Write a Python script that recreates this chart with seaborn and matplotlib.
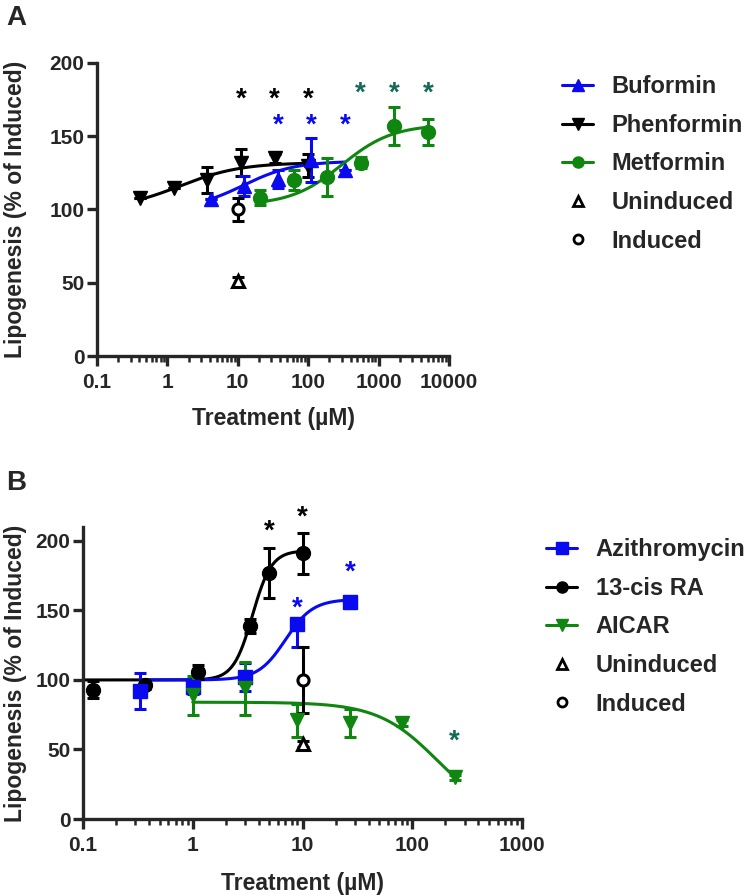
import numpy as np
import matplotlib
matplotlib.use("Agg")
import matplotlib.pyplot as plt
import seaborn as sns
from matplotlib.lines import Line2D
from matplotlib.ticker import FixedLocator, FixedFormatter, LogLocator, NullFormatter

# ---- Panel A data ----
phen_x = [0.41, 1.23, 3.7, 11.1, 33.3, 100]
phen_y = [108, 115, 120, 132, 135, 130]
phen_err = [0, 0, 9, 9, 3, 8]
buf_x = [4.1, 12.3, 37, 111, 333]
buf_y = [107, 116, 121, 134, 127]
buf_err = [0, 7, 6, 15, 0]
met_x = [20.6, 62, 185, 556, 1667, 5000]
met_y = [108, 120, 122, 132, 157, 153]
met_err = [5, 7, 13, 4, 13, 9]
ctrl_a_x = [10]
uninduced_a = [51]
uninduced_a_err = [3]
induced_a = [100]
induced_a_err = [8]
stars_a_phen = [11.1, 33.3, 100]
stars_a_buf = [37, 111, 333]
stars_a_met = [556, 1667, 5000]

# fitted curve params: bottom, top, EC50, hill, x-range
phen_fit = [100, 132, 1.5, 1.0, 0.41, 100]
buf_fit = [100, 133, 12, 1.2, 4.1, 333]
met_fit = [103, 158, 300, 1.2, 20.6, 5000]

# ---- Panel B data ----
azi_x = [0.333, 1, 3, 9, 27]
azi_y = [92, 95, 102, 140, 156]
azi_err_lo = [13, 5, 10, 16, 4]
azi_err_hi = [13, 5, 10, 0, 4]
cis_x = [0.123, 0.37, 1.11, 3.33, 5, 10]
cis_y = [93, 96.5, 106, 139, 177, 191]
cis_err = [6, 3, 5, 5, 18, 15]
aic_x = [1, 3, 9, 27, 81, 243]
aic_y = [89, 94, 71, 69, 69, 30]
aic_err = [14, 19, 12, 10, 2, 2]
ctrl_b_x = [10]
uninduced_b = [54]
uninduced_b_err = [2]
induced_b = [100]
induced_b_err = [24]
stars_b_cis = [(5, 207), (10, 217)]
stars_b_azi = [(9, 151), (27, 177)]
stars_b_aic = [(243, 56)]

azi_fit = [100, 158, 7, 3.5, 0.333, 27]
cis_fit = [100, 193, 3.5, 5, 0.1, 10]
aic_fit = [84, 0, 170, 1.6, 1, 243]

BLUE = "#0a0af0"
GREEN = "#0f860f"
TEAL = "#136b55"
BLACK = "black"

sns.set_style("ticks")
plt.rcParams['font.family'] = ['Liberation Sans', 'DejaVu Sans']
plt.rcParams['font.weight'] = 'bold'
plt.rcParams['axes.labelweight'] = 'bold'

W, H = 744, 896
fig = plt.figure(figsize=(7.44, 8.96), dpi=100)
axA = fig.add_axes([97 / W, 1 - 356 / H, 352 / W, 293 / H])
axB = fig.add_axes([83 / W, 1 - 819 / H, 439 / W, 292 / H])


def fit_curve(ax, p, color):
    bottom, top, ec50, hill, lo, hi = p
    xs = np.logspace(np.log10(lo), np.log10(hi), 200)
    ys = bottom + (top - bottom) / (1 + (ec50 / xs) ** hill)
    sns.lineplot(x=xs, y=ys, ax=ax, color=color, linewidth=2.2, estimator=None, sort=False)


def series(ax, x, y, err, marker, color, ms=10):
    ax.errorbar(x, y, yerr=err, fmt='none', ecolor=color, elinewidth=2.2,
                capsize=4, capthick=2.2, zorder=3)
    ax.plot(x, y, linestyle='none', marker=marker, color=color, markersize=ms, zorder=4)


def open_series(ax, x, y, err, marker):
    ax.errorbar(x, y, yerr=err, fmt='none', ecolor='black', elinewidth=2.2,
                capsize=4, capthick=2.2, zorder=3)
    ax.plot(x, y, linestyle='none', marker=marker, markerfacecolor='white',
            markeredgecolor='black', markeredgewidth=2.2, markersize=8, zorder=4)


def stars(ax, pts, color):
    for x, y in pts:
        ax.text(x, y, '*', ha='center', va='center', fontsize=20,
                fontweight='bold', color=color, clip_on=False)


def style_axis(ax, xmax, ymax, ylab_x, xlab_y):
    ax.set_xscale('log')
    ax.set_xlim(0.1, xmax)
    ax.set_ylim(0, ymax)
    majors = [10.0 ** k for k in range(-1, int(np.log10(xmax)) + 1)]
    ax.xaxis.set_major_locator(FixedLocator(majors))
    ax.xaxis.set_major_formatter(FixedFormatter([f"{m:g}" for m in majors]))
    ax.xaxis.set_minor_locator(LogLocator(base=10, subs=np.arange(2, 10)))
    ax.xaxis.set_minor_formatter(NullFormatter())
    ax.set_yticks([0, 50, 100, 150, 200])
    sns.despine(ax=ax)
    for s in ['left', 'bottom']:
        ax.spines[s].set_linewidth(2.4)
    ax.tick_params(which='major', length=7, width=2.4, labelsize=15)
    ax.tick_params(axis='x', which='major', pad=5)
    ax.tick_params(axis='y', which='major', pad=2)
    ax.tick_params(which='minor', length=4, width=1.8)
    for lab in ax.get_xticklabels() + ax.get_yticklabels():
        lab.set_fontweight('bold')
    ax.set_xlabel('Treatment (µM)', fontsize=16.5, fontweight='bold')
    ax.set_ylabel('Lipogenesis (% of Induced)', fontsize=16.5, fontweight='bold')
    ax.yaxis.set_label_coords(ylab_x, 0.5)
    ax.xaxis.set_label_coords(0.5, xlab_y)


def legend(handles, labels, x, y):
    fig.legend(handles, labels, loc='upper left', bbox_to_anchor=(x / W, 1 - y / H),
               frameon=False, prop={'size': 17, 'weight': 'bold'}, handlelength=1.3,
               handletextpad=0.8, labelspacing=0.66)


# ---- Panel A ----
fit_curve(axA, phen_fit, BLACK)
fit_curve(axA, buf_fit, BLUE)
fit_curve(axA, met_fit, GREEN)
series(axA, phen_x, phen_y, phen_err, 'v', BLACK)
series(axA, buf_x, buf_y, buf_err, '^', BLUE)
series(axA, met_x, met_y, met_err, 'o', GREEN)
open_series(axA, ctrl_a_x, uninduced_a, uninduced_a_err, '^')
open_series(axA, ctrl_a_x, induced_a, induced_a_err, 'o')
stars(axA, [(x, 175) for x in stars_a_phen], BLACK)
stars(axA, [(x, 157) for x in stars_a_buf], BLUE)
stars(axA, [(x, 179) for x in stars_a_met], TEAL)
style_axis(axA, 10000, 200, (27 - 97) / 352, (356 - 407) / 293)

handlesA = [
    Line2D([], [], color=BLUE, marker='^', markersize=8, linewidth=2.2),
    Line2D([], [], color=BLACK, marker='v', markersize=8, linewidth=2.2),
    Line2D([], [], color=GREEN, marker='o', markersize=8, linewidth=2.2),
    Line2D([], [], color='black', marker='^', markerfacecolor='white', markeredgewidth=2,
           markersize=6.5, linestyle='none'),
    Line2D([], [], color='black', marker='o', markerfacecolor='white', markeredgewidth=2,
           markersize=6.5, linestyle='none'),
]
legend(handlesA, ['Buformin', 'Phenformin', 'Metformin', 'Uninduced', 'Induced'], 541, 54)

# ---- Panel B ----
fit_curve(axB, cis_fit, BLACK)
fit_curve(axB, azi_fit, BLUE)
fit_curve(axB, aic_fit, GREEN)
series(axB, cis_x, cis_y, cis_err, 'o', BLACK)
series(axB, azi_x, azi_y, [azi_err_lo, azi_err_hi], 's', BLUE)
series(axB, aic_x, aic_y, aic_err, 'v', GREEN)
open_series(axB, ctrl_b_x, uninduced_b, uninduced_b_err, '^')
open_series(axB, ctrl_b_x, induced_b, induced_b_err, 'o')
stars(axB, stars_b_cis, BLACK)
stars(axB, stars_b_azi, BLUE)
stars(axB, stars_b_aic, TEAL)
style_axis(axB, 1000, 210, (27 - 83) / 439, (819 - 872) / 292)

handlesB = [
    Line2D([], [], color=BLUE, marker='s', markersize=8, linewidth=2.2),
    Line2D([], [], color=BLACK, marker='o', markersize=8, linewidth=2.2),
    Line2D([], [], color=GREEN, marker='v', markersize=8, linewidth=2.2),
    Line2D([], [], color='black', marker='^', markerfacecolor='white', markeredgewidth=2,
           markersize=6.5, linestyle='none'),
    Line2D([], [], color='black', marker='o', markerfacecolor='white', markeredgewidth=2,
           markersize=6.5, linestyle='none'),
]
legend(handlesB, ['Azithromycin', '13-cis RA', 'AICAR', 'Uninduced', 'Induced'], 525, 517)

fig.text(6 / W, 1 - 5 / H, 'A', fontsize=20, fontweight='bold', va='top')
fig.text(6 / W, 1 - 470 / H, 'B', fontsize=20, fontweight='bold', va='top')

fig.savefig('out.png', dpi=100)
